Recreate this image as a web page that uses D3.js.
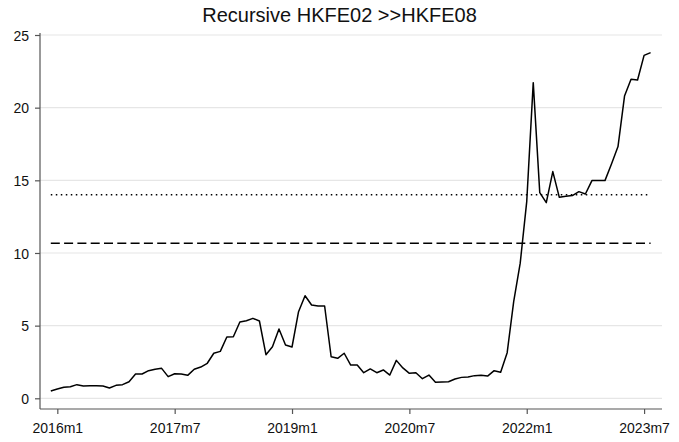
<!DOCTYPE html>
<html>
<head>
<meta charset="utf-8">
<script src="https://cdn.jsdelivr.net/npm/d3@7"></script>
<style>
  html, body { margin: 0; padding: 0; background: #ffffff; }
  svg { display: block; font-family: "Liberation Sans", Arial, Helvetica, sans-serif; }
</style>
</head>
<body>
<svg id="chart" width="679" height="442"></svg>
<script>
// Monthly recursive statistic, 2015m12 .. 2023m8
const startMonth = { year: 2015, month: 12 };
const values = [
  0.50,
  0.64, 0.76, 0.80, 0.94, 0.85, 0.87, 0.87, 0.85, 0.71, 0.89, 0.94, 1.14,
  1.67, 1.67, 1.90, 2.00, 2.06, 1.49, 1.69, 1.67, 1.58, 2.00, 2.15, 2.41,
  3.10, 3.23, 4.22, 4.24, 5.25, 5.34, 5.50, 5.32, 3.00, 3.55, 4.77, 3.67,
  3.53, 5.96, 7.06, 6.42, 6.35, 6.35, 2.86, 2.75, 3.10, 2.29, 2.29, 1.76,
  2.02, 1.76, 1.95, 1.60, 2.61, 2.09, 1.72, 1.76, 1.35, 1.60, 1.10, 1.12,
  1.14, 1.33, 1.44, 1.47, 1.56, 1.58, 1.53, 1.90, 1.79, 3.14, 6.65, 9.30,
  13.53, 21.72, 14.15, 13.46, 15.60, 13.83, 13.90, 13.95, 14.22, 14.06, 14.98, 14.98,
  14.98, 16.13, 17.32, 20.80, 21.95, 21.90, 23.60, 23.79
];
// Reference levels (critical values)
const dottedLevel = 14.0;
const dashedLevel = 10.67;

const xTickLabels = ["2016m1", "2017m7", "2019m1", "2020m7", "2022m1", "2023m7"];
const yTicks = [0, 5, 10, 15, 20, 25];
const title = "Recursive HKFE02 >>HKFE08";

// Stata-style monthly index: months since 1960m1
const mIndex = (y, m) => (y - 1960) * 12 + (m - 1);
const parseLabel = s => { const p = s.split("m"); return mIndex(+p[0], +p[1]); };
const t0 = mIndex(startMonth.year, startMonth.month);
const series = values.map((v, i) => ({ t: t0 + i, v }));
const tFirst = series[0].t, tLast = series[series.length - 1].t;

const svg = d3.select("#chart");
const plot = { left: 40, right: 662, top: 33, bottom: 409 };

const x = d3.scaleLinear().domain([tFirst, tLast]).range([50.8, 650.6]);
const y = d3.scaleLinear().domain([0, 25]).range([398.3, 35]);

// Gridlines
svg.append("g").selectAll("line").data(yTicks).join("line")
  .attr("x1", plot.left).attr("x2", plot.right)
  .attr("y1", d => y(d)).attr("y2", d => y(d))
  .attr("stroke", "#e6e6e6").attr("stroke-width", 1.2);

// Y axis
const yAxis = svg.append("g").attr("transform", `translate(${plot.left},0)`)
  .call(d3.axisLeft(y).tickValues(yTicks).tickSize(5).tickPadding(6).tickFormat(d3.format("d")));
yAxis.select(".domain").remove();
yAxis.append("line").attr("x1", 0).attr("x2", 0).attr("y1", plot.top).attr("y2", plot.bottom)
  .attr("stroke", "#555").attr("stroke-width", 1.2);
yAxis.selectAll(".tick line").attr("stroke", "#555").attr("stroke-width", 1.2);
yAxis.selectAll(".tick text").attr("font-size", 14).attr("fill", "#111").attr("dy", "0.38em");

// X axis
const xAxis = svg.append("g").attr("transform", `translate(0,${plot.bottom})`)
  .call(d3.axisBottom(x).tickValues(xTickLabels.map(parseLabel)).tickSize(5).tickPadding(9)
    .tickFormat((d, i) => xTickLabels[i]));
xAxis.select(".domain").remove();
xAxis.append("line").attr("x1", plot.left).attr("x2", plot.right).attr("y1", 0).attr("y2", 0)
  .attr("stroke", "#555").attr("stroke-width", 1.2);
xAxis.selectAll(".tick line").attr("stroke", "#555").attr("stroke-width", 1.2);
xAxis.selectAll(".tick text").attr("font-size", 14).attr("fill", "#111");

// Reference lines across the sample
svg.append("line")
  .attr("x1", x(tFirst)).attr("x2", x(tLast))
  .attr("y1", y(dottedLevel)).attr("y2", y(dottedLevel))
  .attr("stroke", "#000").attr("stroke-width", 1.5)
  .attr("stroke-dasharray", "1.5,3.5");
svg.append("line")
  .attr("x1", x(tFirst)).attr("x2", x(tLast))
  .attr("y1", y(dashedLevel)).attr("y2", y(dashedLevel))
  .attr("stroke", "#000").attr("stroke-width", 1.5)
  .attr("stroke-dasharray", "9,4.3");

// Series line
svg.append("path").datum(series)
  .attr("fill", "none").attr("stroke", "#000").attr("stroke-width", 1.5)
  .attr("stroke-linejoin", "round")
  .attr("d", d3.line().x(d => x(d.t)).y(d => y(d.v)));

// Title
svg.append("text").attr("x", 339.5).attr("y", 22).attr("text-anchor", "middle")
  .attr("font-size", 20).attr("fill", "#111").text(title);
</script>
</body>
</html>
